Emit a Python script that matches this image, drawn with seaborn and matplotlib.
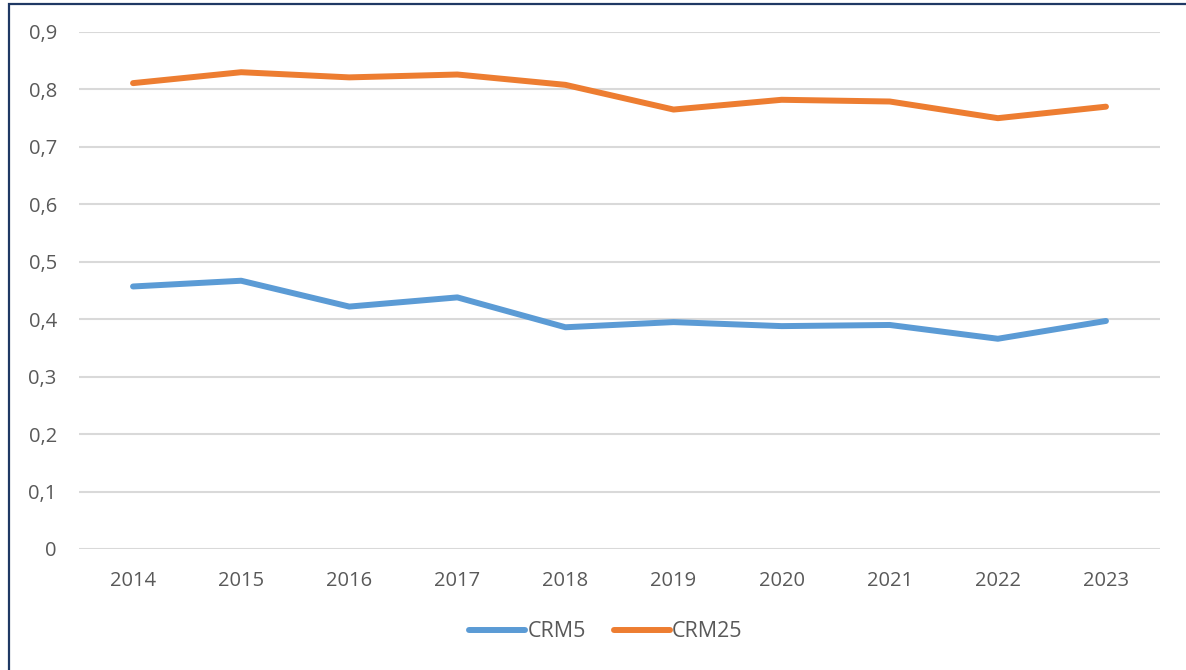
import pandas as pd
import matplotlib.pyplot as plt
import seaborn as sns
from matplotlib.patches import Rectangle
from matplotlib.ticker import FuncFormatter

years = ['2014', '2015', '2016', '2017', '2018', '2019', '2020', '2021', '2022', '2023']
crm5 = [0.457, 0.467, 0.422, 0.438, 0.386, 0.395, 0.388, 0.390, 0.366, 0.397]
crm25 = [0.811, 0.830, 0.821, 0.826, 0.808, 0.765, 0.782, 0.779, 0.750, 0.770]

df = pd.DataFrame({'Year': years * 2,
                   'Value': crm5 + crm25,
                   'Series': ['CRM5'] * len(years) + ['CRM25'] * len(years)})

sns.set_theme(style="white")
plt.rcParams['font.family'] = ['Open Sans', 'DejaVu Sans']

fig = plt.figure(figsize=(11.86, 6.70), dpi=100)
ax = fig.add_axes([79 / 1186, 1 - 549 / 670, (1160 - 79) / 1186, (549 - 32) / 670])

sns.lineplot(data=df, x='Year', y='Value', hue='Series', sort=False,
             palette={'CRM5': '#5B9BD5', 'CRM25': '#ED7D31'},
             linewidth=4.3, solid_capstyle='round', solid_joinstyle='round', ax=ax, zorder=3)

ax.set_xlim(-0.5, len(years) - 0.5)
ax.set_ylim(0, 0.9)
ax.set_yticks([i / 10 for i in range(10)])
ax.yaxis.set_major_formatter(FuncFormatter(lambda v, p: '0' if v == 0 else f'{v:.1f}'.replace('.', ',')))
ax.grid(axis='y', color='#D9D9D9', linewidth=1.5, zorder=0)
ax.grid(axis='x', visible=False)
for s in ax.spines.values():
    s.set_visible(False)
ax.tick_params(axis='both', length=0, labelsize=14.5, colors='#595959')
ax.tick_params(axis='y', pad=16)
ax.tick_params(axis='x', pad=16)
ax.set_xlabel('')
ax.set_ylabel('')

handles, labels = ax.get_legend_handles_labels()
ax.get_legend().remove()
leg = fig.legend(handles, labels, loc='center', bbox_to_anchor=(0.511, 0.057), ncol=2,
                 frameon=False, fontsize=15.5, handlelength=2.6, handletextpad=0.1, columnspacing=1.3)
for t in leg.get_texts():
    t.set_color('#595959')

fig.patches.append(Rectangle((9 / 1186, -0.2), 1.5, 1.2 - 4 / 670, transform=fig.transFigure,
                             fill=False, edgecolor='#1F3864', linewidth=1.6))

fig.savefig('out.png', dpi=100)
